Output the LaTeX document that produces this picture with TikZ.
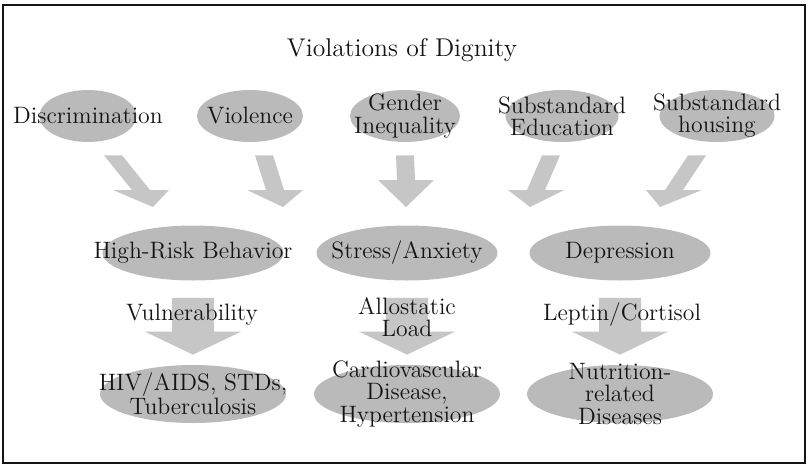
\documentclass[tikz,border=0pt]{standalone}
\usepackage{fontspec}
\usepackage{tikz}
\usetikzlibrary{calc,shapes.geometric}
\definecolor{blobGray}{RGB}{186,186,186}
\definecolor{arrowGray}{RGB}{198,198,198}
\definecolor{inkBlack}{RGB}{20,20,20}
\tikzset{
  gray blob/.style={ellipse,fill=blobGray,inner xsep=-40pt,inner ysep=-20pt,align=center,text=inkBlack,font=\fontsize{13.5}{12.6}\selectfont},
  cause blob/.style={gray blob,minimum height=1.04cm},
  effect blob/.style={gray blob,minimum width=3.62cm,minimum height=1.1cm},
  disease blob/.style={gray blob,minimum width=3.72cm,minimum height=1.16cm},
  path label/.style={align=center,text=inkBlack,inner sep=0pt,font=\fontsize{13.5}{12.6}\selectfont},
  title text/.style={text=inkBlack,font=\fontsize{14.6}{17}\selectfont},
  fat arrow/.style={fill=arrowGray},
  frame line/.style={draw=inkBlack,line width=1pt}
}
% start, head base, tip, shaft half width, head half width
\newcommand{\fatarrow}[5]{%
  \fill[fat arrow] ($(#1)+(-#4,0)$) -- ($(#2)+(-#4,0)$) -- ($(#2)+(-#5,0)$) -- (#3)
    -- ($(#2)+(#5,0)$) -- ($(#2)+(#4,0)$) -- ($(#1)+(#4,0)$) -- cycle;}

\begin{document}
\begin{tikzpicture}[x=0.02cm,y=0.02cm]
  \useasboundingbox (0,0) rectangle (810,468);
  \draw[frame line] (3,5) rectangle (805,463);
  \node[title text] (title) at (402,418) {Violations of Dignity};

  % violations
  \node[cause blob,minimum width=1.94cm] (discr) at (88,352) {Discrimination};
  \node[cause blob,minimum width=2.12cm] (viol) at (250,352) {Violence};
  \node[cause blob,minimum width=2.2cm] (gender) at (405,352) {Gender\\Inequality};
  \node[cause blob,minimum width=2.26cm] (educ) at (562,352) {Substandard\\Education};
  \node[cause blob,minimum width=2.3cm] (house) at (717,352) {Substandard\\housing};

  % responses
  \node[effect blob] (risk) at (193,215) {High-Risk Behavior};
  \node[effect blob] (stress) at (407,215) {Stress/Anxiety};
  \node[effect blob] (depr) at (620,215) {Depression};

  % diseases
  \node[disease blob] (hiv) at (193,74) {HIV/AIDS, STDs,\\Tuberculosis};
  \node[disease blob] (cardio) at (407,74) {Cardiovascular\\Disease,\\Hypertension};
  \node[disease blob] (nutri) at (620,74) {Nutrition-\\related\\Diseases};

  \foreach \src/\dx/\bx/\by/\tx in {discr/25/141/278/153, viol/14/275/278/283, gender/0/406/288/406, educ/-11/536/278/530, house/-20/674/278/660}{
    \coordinate (s) at ($(\src.south)+(\dx,-13)$);
    \fatarrow{s}{\bx,\by}{\tx,261}{9}{28}
  }
  \foreach \src/\dst in {risk/hiv, stress/cardio, depr/nutri}{
    \coordinate (s) at ($(\src.south)+(0,-17)$);
    \coordinate (t) at ($(\dst.north)+(0,10)$);
    \coordinate (b) at ($(t)+(0,23)$);
    \fatarrow{s}{b}{t}{21}{48}
  }

  \node[path label] (vuln) at (192,153) {Vulnerability};
  \node[path label] (allo) at (407,151) {Allostatic\\Load};
  \node[path label] (lept) at (622,153) {Leptin/Cortisol};
\end{tikzpicture}
\end{document}
